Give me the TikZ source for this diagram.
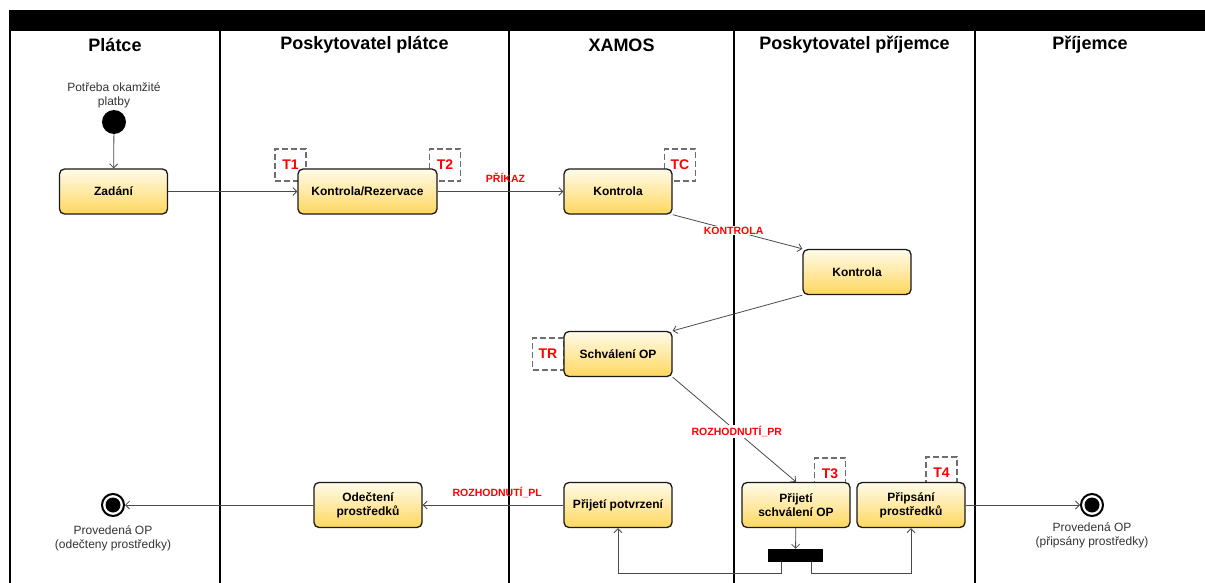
\documentclass[tikz,border=0pt]{standalone}
\usepackage{fontspec}
\setmainfont{Liberation Sans}
\usetikzlibrary{arrows.meta,shapes.geometric}
\definecolor{conncol}{HTML}{4A4A4A}
\definecolor{labred}{HTML}{FF0000}
\definecolor{boxtop}{HTML}{FFFBEA}
\definecolor{boxbot}{HTML}{FFD75E}
\definecolor{grtext}{HTML}{333333}
\definecolor{dashcol}{HTML}{6E6E6E}
\begin{document}
\begin{tikzpicture}[x=1pt,y=-1pt,
 act/.style={draw=black!90,line width=1.3pt,rounded corners=5pt,top color=boxtop,bottom color=boxbot,minimum width=108pt,minimum height=45pt,align=center,font=\fontsize{12}{14}\selectfont\bfseries,inner sep=2pt},
 conn/.style={draw=conncol,line width=0.8pt,-{Straight Barb[length=4pt,width=8pt]}},
 lab/.style={text=labred,font=\fontsize{10.5}{12}\selectfont\bfseries,inner sep=1pt},
 tag/.style={draw=dashcol,dash pattern=on 6pt off 3pt,line width=1.5pt,minimum width=31pt,minimum height=32pt,text=labred,font=\fontsize{14}{16}\selectfont\bfseries,inner sep=0pt},
 lane/.style={line width=1.8pt,draw=black},
 head/.style={font=\fontsize{18}{20}\selectfont\bfseries},
 note/.style={text=grtext,font=\fontsize{12}{14}\selectfont,align=center},
 startst/.style={circle,fill=black,minimum size=24pt,inner sep=0pt},
 endst/.style={circle,draw=black,line width=2pt,fill=white,minimum size=22pt,inner sep=0pt,
   path picture={\fill[black] (path picture bounding box.center) circle (7.5pt);}},
]
\useasboundingbox (0,0) rectangle (1205,583);
% swimlanes
\fill[black] (9,10) rectangle (1205,31);
\draw[lane] (10,31) -- (10,583);
\draw[lane] (220,31) -- (220,583);
\draw[lane] (509,31) -- (509,583);
\draw[lane] (734,31) -- (734,583);
\draw[lane] (975,31) -- (975,583);
\node[head] (h1) at (115,45) {Plátce};
\node[head] (h2) at (364.5,45) {Poskytovatel plátce};
\node[head] (h3) at (621.5,45) {XAMOS};
\node[head] (h4) at (854.5,45) {Poskytovatel příjemce};
\node[head] (h5) at (1090,45) {Příjemce};
% tags
\node[tag] (t1) at (290.5,165) {T1};
\node[tag] (t2) at (445,165) {T2};
\node[tag] (tc) at (680,165) {TC};
\node[tag] (tr) at (548,354) {TR};
\node[tag] (t3) at (830,474) {T3};
\node[tag] (t4) at (941.5,473) {T4};
% nodes
\node[note] (n0) at (114,95) {Potřeba okamžité\\platby};
\node[startst] (st) at (114,122) {};
\node[act] (zad) at (113.5,191.5) {Zadání};
\node[act,minimum width=139pt] (kr) at (367.5,191.5) {Kontrola/Rezervace};
\node[act] (kx) at (618,191.5) {Kontrola};
\node[act] (kp) at (857,272) {Kontrola};
\node[act] (so) at (618,354) {Schválení OP};
\node[act] (ps) at (796,505) {Přijetí\\schválení OP};
\node[act] (pp) at (911,505) {Připsání\\prostředků};
\node[act] (pt) at (618,505) {Přijetí potvrzení};
\node[act] (od) at (368,505) {Odečtení\\prostředků};
\node[fill=black,minimum width=55pt,minimum height=13pt,inner sep=0pt] (bar) at (795.5,555.5) {};
\node[endst] (e1) at (113,505) {};
\node[endst] (e2) at (1092,505) {};
\node[note] (n1) at (113,538) {Provedená OP\\(odečteny prostředky)};
\node[note] (n2) at (1092,535) {Provedená OP\\(připsány prostředky)};
% connectors
\draw[conn] (st) -- (zad);
\draw[conn] (zad) -- (kr);
\draw[conn] (kr) -- node[lab,pos=0.54,yshift=13.5pt] {PŘÍKAZ} (kx);
\draw[conn] (kx.south east) -- node[lab,fill=white,pos=0.47] {KONTROLA} (kp.north west);
\draw[conn] (kp.south west) -- (so.north east);
\draw[conn] (so.south east) -- node[lab,fill=white,pos=0.52] {ROZHODNUTÍ\_PR} (ps.north);
\draw[conn] (ps) -- (bar);
\draw[conn] ([xshift=-14.5pt]bar.south) -- ++(0,11) -| (pt.south);
\draw[conn] ([xshift=15.5pt]bar.south) -- ++(0,11) -| (pp.south);
\draw[conn] (pt) -- node[lab,pos=0.47,yshift=13pt] {ROZHODNUTÍ\_PL} (od);
\draw[conn] (od) -- (e1);
\draw[conn] (pp) -- (e2);
\end{tikzpicture}
\end{document}
